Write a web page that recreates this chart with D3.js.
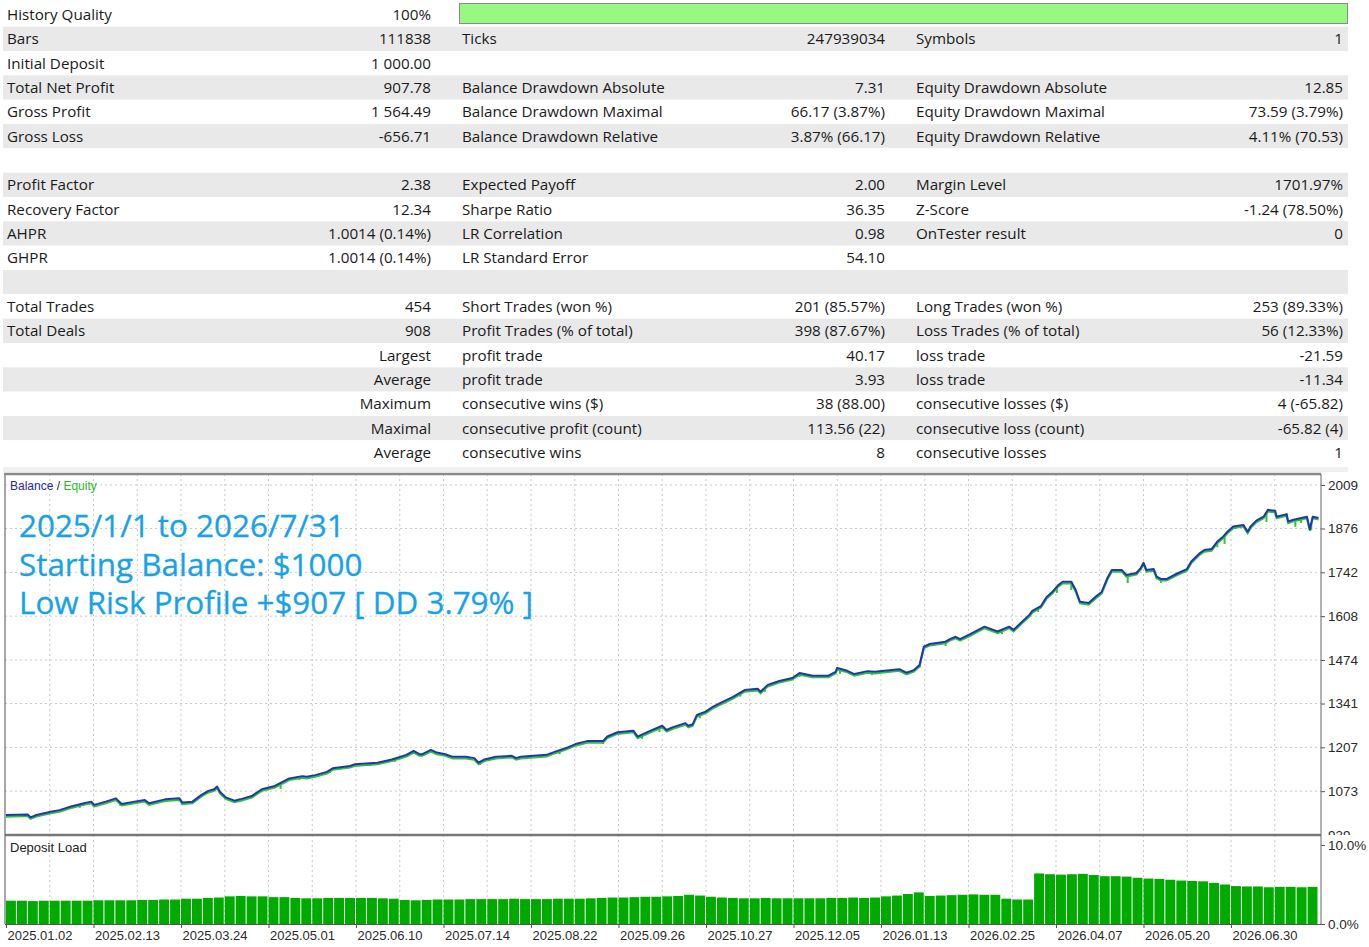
<!DOCTYPE html>
<html>
<head>
<meta charset="utf-8">
<script src="https://cdn.jsdelivr.net/npm/d3@7"></script>
<style>
  body { margin: 0; background: #fff; }
  svg { display: block; }
  .tbl text { font-family: "Segoe UI", "Open Sans", sans-serif; font-size: 15.2px; fill: #1a1a1a; }
  .ax text { font-family: "Liberation Sans", Arial, sans-serif; font-size: 13px; fill: #2a2a2a; }
  .ax.val text { font-size: 13.5px; }
  .ax .domain { display: none; }
  .ax line { stroke: #555; }
</style>
</head>
<body>
<svg id="report" width="1369" height="947"></svg>
<script>
// ---- report table (one entry per row, "" = empty cell) ----
const col1Labels = ["History Quality", "Bars", "Initial Deposit", "Total Net Profit", "Gross Profit", "Gross Loss", "",
  "Profit Factor", "Recovery Factor", "AHPR", "GHPR", "",
  "Total Trades", "Total Deals", "", "", "", "", ""];
const col1Values = ["100%", "111838", "1 000.00", "907.78", "1 564.49", "-656.71", "",
  "2.38", "12.34", "1.0014 (0.14%)", "1.0014 (0.14%)", "",
  "454", "908", "Largest", "Average", "Maximum", "Maximal", "Average"];
const col2Labels = ["", "Ticks", "", "Balance Drawdown Absolute", "Balance Drawdown Maximal", "Balance Drawdown Relative", "",
  "Expected Payoff", "Sharpe Ratio", "LR Correlation", "LR Standard Error", "",
  "Short Trades (won %)", "Profit Trades (% of total)", "profit trade", "profit trade",
  "consecutive wins ($)", "consecutive profit (count)", "consecutive wins"];
const col2Values = ["", "247939034", "", "7.31", "66.17 (3.87%)", "3.87% (66.17)", "",
  "2.00", "36.35", "0.98", "54.10", "",
  "201 (85.57%)", "398 (87.67%)", "40.17", "3.93", "38 (88.00)", "113.56 (22)", "8"];
const col3Labels = ["", "Symbols", "", "Equity Drawdown Absolute", "Equity Drawdown Maximal", "Equity Drawdown Relative", "",
  "Margin Level", "Z-Score", "OnTester result", "", "",
  "Long Trades (won %)", "Loss Trades (% of total)", "loss trade", "loss trade",
  "consecutive losses ($)", "consecutive loss (count)", "consecutive losses"];
const col3Values = ["", "1", "", "12.85", "73.59 (3.79%)", "4.11% (70.53)", "",
  "1701.97%", "-1.24 (78.50%)", "0", "", "",
  "253 (89.33%)", "56 (12.33%)", "-21.59", "-11.34", "4 (-65.82)", "-65.82 (4)", "1"];
const historyQuality = 100;

// ---- balance / equity graph ----
const totalDeals = 908;
const balanceDeal = [0,15,17,21,31,37,45,54,59,61,69,76,80,89,96,99,110,120,122,129,
  135,140,144,146,148,152,158,162,170,177,186,196,205,208,214,222,226,238,241,257,
  267,277,282,286,288,294,298,304,309,318,324,327,331,339,350,353,356,374,380,387,
  394,402,413,416,423,434,437,441,446,454,457,461,470,472,475,478,484,489,494,503,
  511,520,522,527,535,544,549,558,569,574,575,582,587,596,601,618,623,628,632,635,
  639,650,653,657,660,667,677,683,686,694,697,702,708,710,716,720,724,728,731,737,
  740,743,749,754,758,762,765,772,775,782,785,787,789,794,796,799,803,811,817,820,
  826,829,834,838,842,845,849,856,859,861,865,870,873,878,879,886,887,890,900,902,
  904,908];
const balanceValue = [1000,1002,993,1000,1010,1015,1026,1036,1041,1031,1041,1051,1034,1041,1046,1036,1048,1051,1038,1041,
  1061,1074,1079,1087,1071,1054,1044,1048,1058,1079,1089,1112,1119,1117,1122,1132,1143,1150,1155,1160,
  1170,1184,1196,1186,1186,1199,1191,1186,1178,1178,1174,1160,1170,1178,1181,1174,1178,1184,1194,1204,
  1217,1226,1226,1240,1253,1258,1240,1248,1258,1273,1260,1268,1281,1273,1277,1306,1316,1331,1342,1361,
  1382,1386,1377,1398,1410,1419,1434,1426,1426,1438,1450,1441,1431,1440,1438,1446,1435,1443,1459,1515,
  1523,1530,1538,1545,1538,1553,1576,1566,1561,1576,1566,1587,1612,1624,1639,1667,1683,1703,1713,1713,
  1688,1652,1648,1668,1682,1725,1749,1749,1734,1740,1755,1771,1749,1752,1729,1722,1722,1740,1752,1775,
  1801,1810,1813,1836,1851,1866,1882,1887,1866,1882,1900,1912,1933,1930,1912,1920,1897,1902,1912,1874,
  1912,1908];
// equity dips below balance (floating losses)
const equityDipDeal = [17,51,79,100,177,190,203,224,252,269,328,383,413,440,452,480,508,525,549,577,
  599,632,650,689,714,727,737,776,799,838,843,872,892,896,903];
const equityDipValue = [988,1022,1028,1031,1070,1080,1107,1129,1150,1162,1153,1186,1217,1233,1254,1296,1362,1377,1422,1432,
  1428,1450,1517,1553,1621,1679,1688,1709,1710,1819,1829,1896,1881,1893,1871];
const yTicks = [939, 1073, 1207, 1341, 1474, 1608, 1742, 1876, 2009];
const xLabels = ["2025.01.02", "2025.02.13", "2025.03.24", "2025.05.01", "2025.06.10", "2025.07.14", "2025.08.22",
  "2025.09.26", "2025.10.27", "2025.12.05", "2026.01.13", "2026.02.25", "2026.04.07", "2026.05.20", "2026.06.30"];

// deposit load in %, 120 equal slices of the test
const depositLoad = [
  2.95,2.95,2.9,2.95,2.95,2.95,2.95,2.95,3.0,3.0,
  3.0,3.0,3.05,3.05,3.1,3.1,3.2,3.2,3.3,3.35,
  3.5,3.55,3.5,3.5,3.4,3.4,3.3,3.25,3.25,3.3,
  3.3,3.3,3.3,3.3,3.25,3.2,3.05,3.0,3.05,3.1,
  3.1,3.1,3.15,3.15,3.15,3.15,3.2,3.15,3.15,3.15,
  3.2,3.2,3.2,3.25,3.3,3.35,3.35,3.4,3.45,3.45,
  3.5,3.55,3.7,3.6,3.45,3.35,3.3,3.25,3.25,3.3,
  3.25,3.25,3.25,3.25,3.25,3.3,3.3,3.35,3.3,3.35,
  3.5,3.6,3.8,4.0,3.55,3.6,3.65,3.7,3.75,3.7,
  3.7,3.2,3.1,3.1,6.4,6.3,6.25,6.3,6.35,6.2,
  6.05,6.05,6.0,5.85,5.75,5.7,5.6,5.5,5.45,5.4,
  5.2,5.0,4.8,4.75,4.75,4.65,4.7,4.7,4.65,4.7];

const noteLines = ["2025/1/1 to 2026/7/31", "Starting Balance: $1000", "Low Risk Profile +$907 [ DD 3.79% ]"];

const svg = d3.select("#report");

// ================= table =================
const ROW_TOP = 2.4, ROW_H = 24.33;
const tbl = svg.append("g").attr("class", "tbl");

tbl.selectAll("rect.row")
  .data(col1Labels)
  .enter()
  .append("rect")
  .attr("class", "row")
  .attr("x", 3)
  .attr("y", (d, i) => ROW_TOP + i * ROW_H)
  .attr("width", 1345)
  .attr("height", ROW_H)
  .attr("fill", (d, i) => (i % 2 ? "#e9e9e9" : "#fff"));

// history quality bar
const hq = d3.scaleLinear().domain([0, 100]).range([0, 888]);
tbl.append("rect")
  .attr("x", 459.5).attr("y", 3.5)
  .attr("width", hq(historyQuality)).attr("height", 20)
  .attr("fill", "#99f882").attr("stroke", "#8a8a8a");

const columns = [
  { data: col1Labels, x: 7, anchor: "start" },
  { data: col1Values, x: 431, anchor: "end" },
  { data: col2Labels, x: 462, anchor: "start" },
  { data: col2Values, x: 885, anchor: "end" },
  { data: col3Labels, x: 916, anchor: "start" },
  { data: col3Values, x: 1343, anchor: "end" },
];
columns.forEach((c) => {
  tbl.append("g")
    .selectAll("text")
    .data(c.data)
    .enter()
    .append("text")
    .attr("x", c.x)
    .attr("y", (d, i) => ROW_TOP + i * ROW_H + 17.6)
    .attr("text-anchor", c.anchor)
    .text((d) => d);
});

svg.append("rect").attr("x", 3).attr("y", 467).attr("width", 1345).attr("height", 5).attr("fill", "#f0f0f0");

// ================= chart =================
const LEFT = 5, RIGHT = 1321, TOP = 474, SEP = 835, BOTTOM = 924;

const x = d3.scaleLinear().domain([0, totalDeals]).range([6, 1318.5]);
const y = d3.scaleLinear().domain([939, 2009]).range([835, 485]);
const yLoad = d3.scaleLinear().domain([0, 10]).range([924, 845]);
const vGrid = d3.range(1, 30).map((k) => (k * totalDeals) / 30);

const grid = svg.append("g")
  .attr("stroke", "#c9c9c9")
  .attr("stroke-dasharray", "2,3");
grid.selectAll("line.v")
  .data(vGrid)
  .enter()
  .append("line")
  .attr("x1", (d) => x(d)).attr("x2", (d) => x(d))
  .attr("y1", TOP).attr("y2", BOTTOM);
grid.selectAll("line.h")
  .data(yTicks)
  .enter()
  .append("line")
  .attr("x1", LEFT).attr("x2", RIGHT)
  .attr("y1", (d) => y(d)).attr("y2", (d) => y(d));

svg.append("clipPath").attr("id", "main-clip")
  .append("rect").attr("x", LEFT).attr("y", TOP).attr("width", RIGHT - LEFT).attr("height", SEP - TOP);

const plot = svg.append("g").attr("clip-path", "url(#main-clip)");
const balancePts = balanceDeal.map((d, i) => [d, balanceValue[i]]);
const line = d3.line().x((d) => x(d[0])).y((d) => y(d[1]));

// equity: green under the balance, plus the floating-loss spikes
plot.append("path")
  .attr("d", line(balancePts))
  .attr("transform", "translate(0,1.6)")
  .attr("fill", "none").attr("stroke", "#2fc42f").attr("stroke-width", 2);

const balanceAt = (d) => {
  const i = d3.bisector((p) => p[0]).right(balancePts, d);
  const a = balancePts[i - 1], b = balancePts[Math.min(i, balancePts.length - 1)];
  return b[0] === a[0] ? a[1] : a[1] + ((b[1] - a[1]) * (d - a[0])) / (b[0] - a[0]);
};
plot.selectAll("line.dip")
  .data(equityDipDeal)
  .enter()
  .append("line")
  .attr("x1", (d) => x(d)).attr("x2", (d) => x(d))
  .attr("y1", (d) => y(balanceAt(d)))
  .attr("y2", (d, i) => y(equityDipValue[i]))
  .attr("stroke", "#2fc42f").attr("stroke-width", 2);

plot.append("path")
  .attr("d", line(balancePts))
  .attr("fill", "none").attr("stroke", "#1f35b8").attr("stroke-width", 2)
  .attr("stroke-linejoin", "round");

// legend + note
svg.append("text")
  .attr("x", 10).attr("y", 490)
  .style("font-family", "'Liberation Sans', Arial, sans-serif").style("font-size", "12px")
  .call((t) => {
    t.append("tspan").attr("fill", "#2a2aa8").text("Balance");
    t.append("tspan").attr("fill", "#222").text(" / ");
    t.append("tspan").attr("fill", "#2cb82c").text("Equity");
  });

svg.append("g")
  .selectAll("text")
  .data(noteLines)
  .enter()
  .append("text")
  .attr("x", 19)
  .attr("y", (d, i) => 537 + i * 38.5)
  .attr("fill", "#17a2e8")
  .attr("stroke", "#17a2e8")
  .attr("stroke-width", 0.3)
  .style("font-family", "'Segoe UI', 'Open Sans', sans-serif")
  .style("font-size", "31.4px")
  .text((d) => d);

// right value axis
svg.append("g")
  .attr("class", "ax val")
  .attr("transform", `translate(${RIGHT},0)`)
  .call(d3.axisRight(y).tickValues(yTicks).tickSize(4).tickPadding(3).tickFormat(d3.format("d")));

// deposit load panel
svg.append("rect").attr("x", LEFT + 1).attr("y", SEP).attr("width", 1369 - LEFT).attr("height", 90).attr("fill", "#fff");
svg.append("g")
  .attr("stroke", "#c9c9c9").attr("stroke-dasharray", "2,3")
  .selectAll("line")
  .data(vGrid)
  .enter()
  .append("line")
  .attr("x1", (d) => x(d)).attr("x2", (d) => x(d))
  .attr("y1", SEP).attr("y2", BOTTOM);

const slice = totalDeals / depositLoad.length;
svg.append("g")
  .selectAll("rect")
  .data(depositLoad)
  .enter()
  .append("rect")
  .attr("x", (d, i) => x(i * slice))
  .attr("width", (d, i) => x((i + 1) * slice) - x(i * slice) - 1)
  .attr("y", (d) => yLoad(d))
  .attr("height", (d) => yLoad(0) - yLoad(d))
  .attr("fill", "#00aa00");

svg.append("text")
  .attr("x", 10).attr("y", 852)
  .style("font-family", "'Liberation Sans', Arial, sans-serif").style("font-size", "13px")
  .attr("fill", "#222")
  .text("Deposit Load");

svg.append("g")
  .attr("class", "ax val")
  .attr("transform", `translate(${RIGHT},0)`)
  .call(d3.axisRight(yLoad).tickValues([0, 10]).tickSize(4).tickPadding(3).tickFormat((d) => d.toFixed(1) + "%"));

// bottom date axis
svg.append("g")
  .attr("class", "ax")
  .attr("transform", `translate(0,${BOTTOM})`)
  .call(d3.axisBottom(x)
    .tickValues(d3.range(xLabels.length).map((i) => (i * totalDeals) / xLabels.length))
    .tickSize(4).tickPadding(3)
    .tickFormat((d, i) => xLabels[i]))
  .selectAll("text")
  .attr("text-anchor", "start")
  .attr("dx", 1);

// frame
const frame = svg.append("g").attr("fill", "none");
frame.append("line").attr("x1", LEFT - 1).attr("x2", RIGHT).attr("y1", TOP).attr("y2", TOP).attr("stroke", "#8a8a8a").attr("stroke-width", 2.5);
frame.append("line").attr("x1", LEFT).attr("x2", LEFT).attr("y1", TOP).attr("y2", BOTTOM).attr("stroke", "#8a8a8a").attr("stroke-width", 1.5);
frame.append("line").attr("x1", RIGHT).attr("x2", RIGHT).attr("y1", TOP).attr("y2", BOTTOM).attr("stroke", "#666");
frame.append("line").attr("x1", LEFT).attr("x2", RIGHT).attr("y1", SEP).attr("y2", SEP).attr("stroke", "#777").attr("stroke-width", 2.5);
frame.append("line").attr("x1", LEFT).attr("x2", RIGHT).attr("y1", BOTTOM + 0.5).attr("y2", BOTTOM + 0.5).attr("stroke", "#555");
</script>
</body>
</html>
